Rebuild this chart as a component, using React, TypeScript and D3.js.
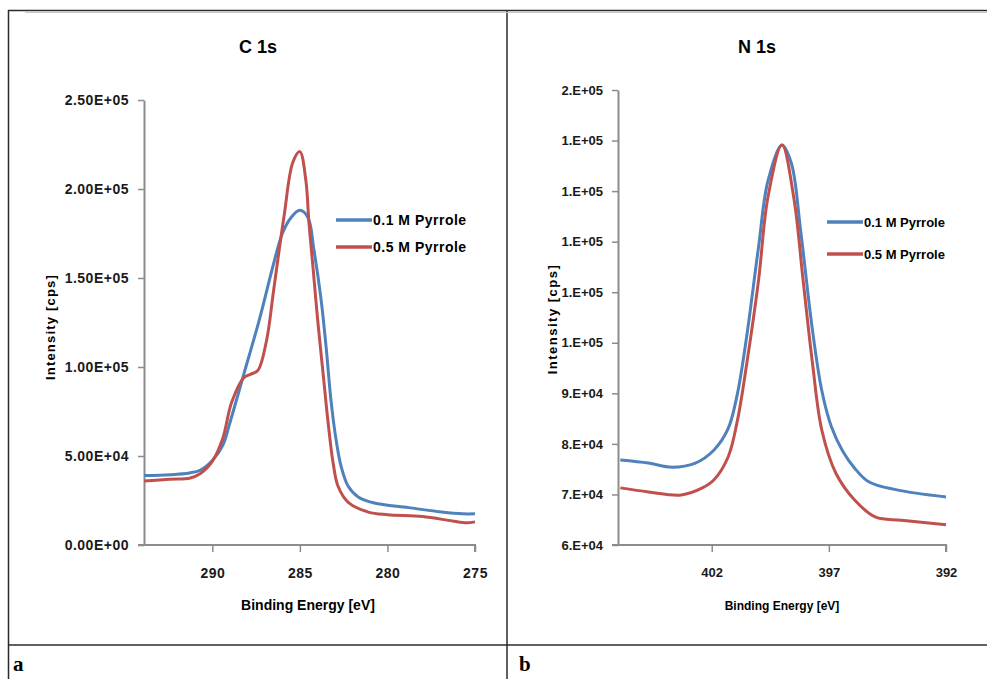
import React, { useEffect, useRef } from 'react';
import * as d3 from 'd3';

// C 1s spectra (binding energy in eV, intensity in cps)
const c1sEnergy01 = [293.9, 292.4, 291.3, 290.7, 290.0, 289.4, 289.0, 288.2, 287.3, 286.5, 286.0, 285.5, 285.0, 284.54, 284.2, 283.79, 283.5, 283.22, 282.93, 282.64, 282.24, 281.67, 280.75, 278.8, 276.9, 275.7, 275.0];
const c1sCounts01 = [39000, 39500, 40500, 42000, 47500, 56000, 68500, 96000, 127000, 158000, 175000, 184000, 188000, 184000, 166000, 138000, 111000, 81000, 59000, 44000, 33000, 27000, 23600, 21000, 18500, 17500, 17500];
const c1sEnergy05 = [293.9, 292.4, 291.3, 290.7, 290.0, 289.4, 288.9, 288.2, 287.8, 287.4, 286.9, 286.5, 285.9, 285.4, 285.0, 284.66, 284.48, 284.25, 283.97, 283.68, 283.39, 283.1, 282.82, 282.24, 281.09, 280.0, 278.0, 276.3, 275.5, 275.0];
const c1sCounts05 = [36000, 37000, 37500, 40000, 47000, 60000, 80000, 94000, 96000, 98000, 115000, 143000, 185000, 215000, 221000, 205000, 181000, 156000, 125000, 97000, 69000, 46000, 33000, 24000, 18500, 17000, 16000, 13500, 12500, 13000];

// N 1s spectra
const n1sEnergy01 = [405.9, 404.7, 403.7, 402.7, 401.9, 401.3, 400.9, 400.5, 400.0, 399.6, 399.0, 398.6, 398.2, 397.7, 397.3, 396.9, 396.4, 395.9, 395.3, 394.1, 392.0];
const n1sCounts01 = [76800, 76200, 75400, 76200, 78800, 83000, 90000, 101500, 119000, 132000, 139100, 135500, 122000, 102500, 90500, 83500, 78500, 75200, 72500, 70900, 69500];
const n1sEnergy05 = [405.9, 404.7, 403.3, 402.4, 401.9, 401.3, 400.9, 400.5, 400.0, 399.6, 399.0, 398.5, 398.1, 397.7, 397.3, 396.7, 395.9, 395.0, 393.9, 392.0];
const n1sCounts05 = [71300, 70500, 69900, 71300, 72900, 77400, 84700, 96000, 112400, 128800, 139100, 128800, 112400, 96000, 82700, 74200, 68900, 65500, 64900, 64000];

const seriesNames = ['0.1 M Pyrrole', '0.5 M Pyrrole'];

const c1sXTicks = [290, 285, 280, 275];
const c1sYTicks = [0, 50000, 100000, 150000, 200000, 250000];
const c1sYLabels = ['0.00E+00', '5.00E+04', '1.00E+05', '1.50E+05', '2.00E+05', '2.50E+05'];

const n1sXTicks = [402, 397, 392];
const n1sYTicks = [60000, 70000, 80000, 90000, 100000, 110000, 120000, 130000, 140000, 150000];
const n1sYLabels = ['6.E+04', '7.E+04', '8.E+04', '9.E+04', '1.E+05', '1.E+05', '1.E+05', '1.E+05', '1.E+05', '2.E+05'];

const FONT = '"Liberation Sans", Arial, sans-serif';
const BLUE = '#4f81bd';
const RED = '#c0504d';
const AXIS = '#8c8c8c';

const App = () => {
  const svgRef = useRef(null);

  useEffect(() => {
    const svg = d3.select(svgRef.current);
    svg.selectAll('*').remove();

    // frame of the figure table
    const frame = svg.append('g').attr('stroke', '#2b2b2b').attr('stroke-width', 1.5);
    frame.append('line').attr('x1', 8).attr('x2', 987).attr('y1', 10.5).attr('y2', 10.5);
    frame.append('line').attr('x1', 8.5).attr('x2', 8.5).attr('y1', 10).attr('y2', 679);
    frame.append('line').attr('x1', 507).attr('x2', 507).attr('y1', 10).attr('y2', 679);
    frame.append('line').attr('x1', 8).attr('x2', 987).attr('y1', 645).attr('y2', 645);
    svg.append('line').attr('x1', 25).attr('x2', 987).attr('y1', 12.5).attr('y2', 12.5)
      .attr('stroke', '#c8c8c8').attr('stroke-width', 1);

    svg.append('text').attr('x', 13).attr('y', 671).text('a')
      .style('font-family', '"Liberation Serif", serif').style('font-weight', 'bold').style('font-size', '21px');
    svg.append('text').attr('x', 519).attr('y', 671).text('b')
      .style('font-family', '"Liberation Serif", serif').style('font-weight', 'bold').style('font-size', '21px');

    const panels = [
      {
        title: 'C 1s', cx: 258,
        xDomain: [293.9, 275], xRange: [144, 475],
        yDomain: [0, 250000], yRange: [545, 100],
        xTicks: c1sXTicks, yTicks: c1sYTicks, yLabels: c1sYLabels,
        series: [
          { e: c1sEnergy01, c: c1sCounts01, color: BLUE },
          { e: c1sEnergy05, c: c1sCounts05, color: RED },
        ],
        tickFs: 14, tickLs: 0.5, legendFs: 14, legendLs: 0.5, xTitleFs: 14, yTitleLs: 1.2,
        legendX: 336, legendY: [220, 247], yTitleX: 50, yTitleY: 327, xTitleX: 308,
      },
      {
        title: 'N 1s', cx: 757,
        xDomain: [406, 392], xRange: [618, 946],
        yDomain: [60000, 150000], yRange: [545, 90],
        xTicks: n1sXTicks, yTicks: n1sYTicks, yLabels: n1sYLabels,
        series: [
          { e: n1sEnergy01, c: n1sCounts01, color: BLUE },
          { e: n1sEnergy05, c: n1sCounts05, color: RED },
        ],
        tickFs: 13, tickLs: 0, legendFs: 13, legendLs: 0, xTitleFs: 12, yTitleLs: 1.5,
        legendX: 827, legendY: [222, 254], yTitleX: 552, yTitleY: 319, xTitleX: 782,
      },
    ];

    panels.forEach(p => {
      const g = svg.append('g');
      const x = d3.scaleLinear().domain(p.xDomain).range(p.xRange);
      const y = d3.scaleLinear().domain(p.yDomain).range(p.yRange);

      // x axis
      const xAxis = g.append('g')
        .attr('transform', `translate(0, ${p.yRange[0]})`)
        .call(d3.axisBottom(x).tickValues(p.xTicks).tickSize(7).tickSizeOuter(0).tickPadding(16).tickFormat(d3.format('d')));
      // y axis
      const yAxis = g.append('g')
        .attr('transform', `translate(${p.xRange[0]}, 0)`)
        .call(d3.axisLeft(y).tickValues(p.yTicks).tickSize(6).tickSizeOuter(0).tickPadding(9)
          .tickFormat((d, i) => p.yLabels[i]));

      [xAxis, yAxis].forEach(a => {
        a.select('.domain').attr('stroke', AXIS).attr('stroke-width', 2);
        a.selectAll('.tick line').attr('stroke', AXIS).attr('stroke-width', 1.5);
        a.selectAll('.tick text')
          .attr('fill', '#1a1a1a')
          .style('font-family', FONT).style('font-weight', 'bold')
          .style('font-size', p.tickFs + 'px').style('letter-spacing', p.tickLs + 'px');
      });
      // start the x domain line at the y axis
      xAxis.select('.domain').attr('d', `M${p.xRange[0] - 6},0H${p.xRange[1]}V7`);

      // curves
      const line = d3.line()
        .x(d => x(d[0]))
        .y(d => y(d[1]))
        .curve(d3.curveCatmullRom.alpha(0.5));
      p.series.forEach(s => {
        g.append('path')
          .datum(s.e.map((e, i) => [e, s.c[i]]))
          .attr('d', line)
          .attr('fill', 'none')
          .attr('stroke', s.color)
          .attr('stroke-width', 3);
      });

      // title
      g.append('text').attr('x', p.cx).attr('y', 53).attr('text-anchor', 'middle').text(p.title)
        .style('font-family', FONT).style('font-weight', 'bold').style('font-size', '18px');

      // axis titles
      g.append('text')
        .attr('transform', `translate(${p.yTitleX}, ${p.yTitleY}) rotate(-90)`)
        .attr('text-anchor', 'middle').attr('dy', '0.35em')
        .text('Intensity [cps]')
        .style('font-family', FONT).style('font-size', '13px').style('font-weight', 'bold')
        .style('letter-spacing', p.yTitleLs + 'px');
      g.append('text').attr('x', p.xTitleX).attr('y', 610).attr('text-anchor', 'middle')
        .text('Binding Energy [eV]')
        .style('font-family', FONT).style('font-size', p.xTitleFs + 'px').style('font-weight', 'bold');

      // legend
      p.series.forEach((s, i) => {
        const ly = p.legendY[i];
        g.append('line').attr('x1', p.legendX).attr('x2', p.legendX + 36)
          .attr('y1', ly).attr('y2', ly).attr('stroke', s.color).attr('stroke-width', 3.5);
        g.append('text').attr('x', p.legendX + 37).attr('y', ly).attr('dy', '0.35em')
          .text(seriesNames[i])
          .style('font-family', FONT).style('font-weight', 'bold')
          .style('font-size', p.legendFs + 'px').style('letter-spacing', p.legendLs + 'px');
      });
    });
  }, []);

  return (
    <svg ref={svgRef} width={987} height={679}
      style={{ position: 'absolute', left: 0, top: 0, background: '#fff' }} />
  );
};

export default App;
